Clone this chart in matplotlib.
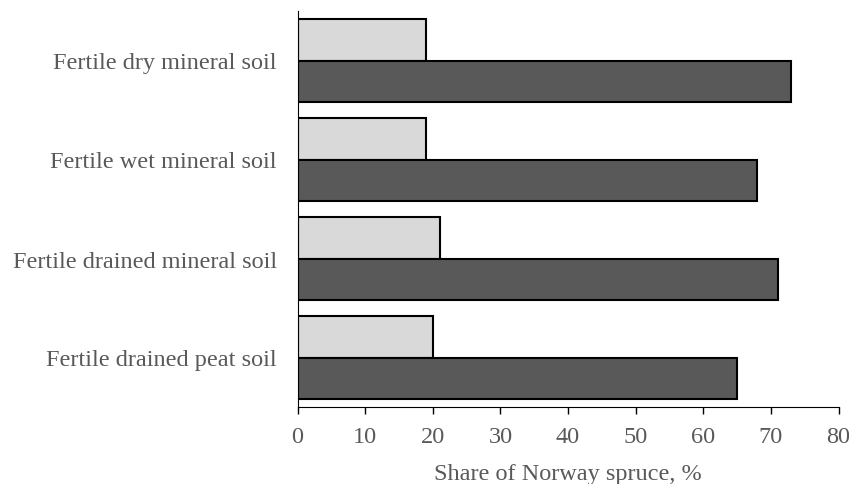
import matplotlib
matplotlib.use("Agg")
import matplotlib.pyplot as plt
import numpy as np

# categories listed top to bottom
categories = [
    "Fertile dry mineral soil",
    "Fertile wet mineral soil",
    "Fertile drained mineral soil",
    "Fertile drained peat soil",
]
light_values = [19, 19, 21, 20]
dark_values = [73, 68, 71, 65]
x_ticks = [0, 10, 20, 30, 40, 50, 60, 70, 80]

TEXT = "#595959"
plt.rcParams["font.family"] = ["Liberation Serif", "DejaVu Serif"]


def main():
    fig = plt.figure(figsize=(8.49, 4.85), dpi=100)
    ax = fig.add_axes([297.5 / 849, 1 - 408 / 485, 541 / 849, 396 / 485])

    y = np.arange(len(categories))
    h = 0.424
    ax.barh(y - h / 2, light_values, height=h, color="#d9d9d9",
            edgecolor="black", linewidth=1.5)
    ax.barh(y + h / 2, dark_values, height=h, color="#595959",
            edgecolor="black", linewidth=1.5)

    ax.set_ylim(3.5, -0.5)
    ax.set_xlim(0, 80)
    ax.set_xticks(x_ticks)
    ax.set_yticks(y)
    ax.set_yticklabels(categories)

    for side in ("top", "right"):
        ax.spines[side].set_visible(False)
    ax.spines["left"].set_color("black")
    ax.spines["bottom"].set_color("black")

    ax.tick_params(axis="y", length=0, pad=15, labelsize=17.5, labelcolor=TEXT)
    ax.tick_params(axis="x", length=5, width=1, direction="out", pad=9,
                   labelsize=17.5, labelcolor=TEXT)
    ax.set_xlabel("Share of Norway spruce, %", fontsize=17.5, color=TEXT,
                  labelpad=11)

    fig.savefig("out.png", dpi=100)


if __name__ == "__main__":
    main()
